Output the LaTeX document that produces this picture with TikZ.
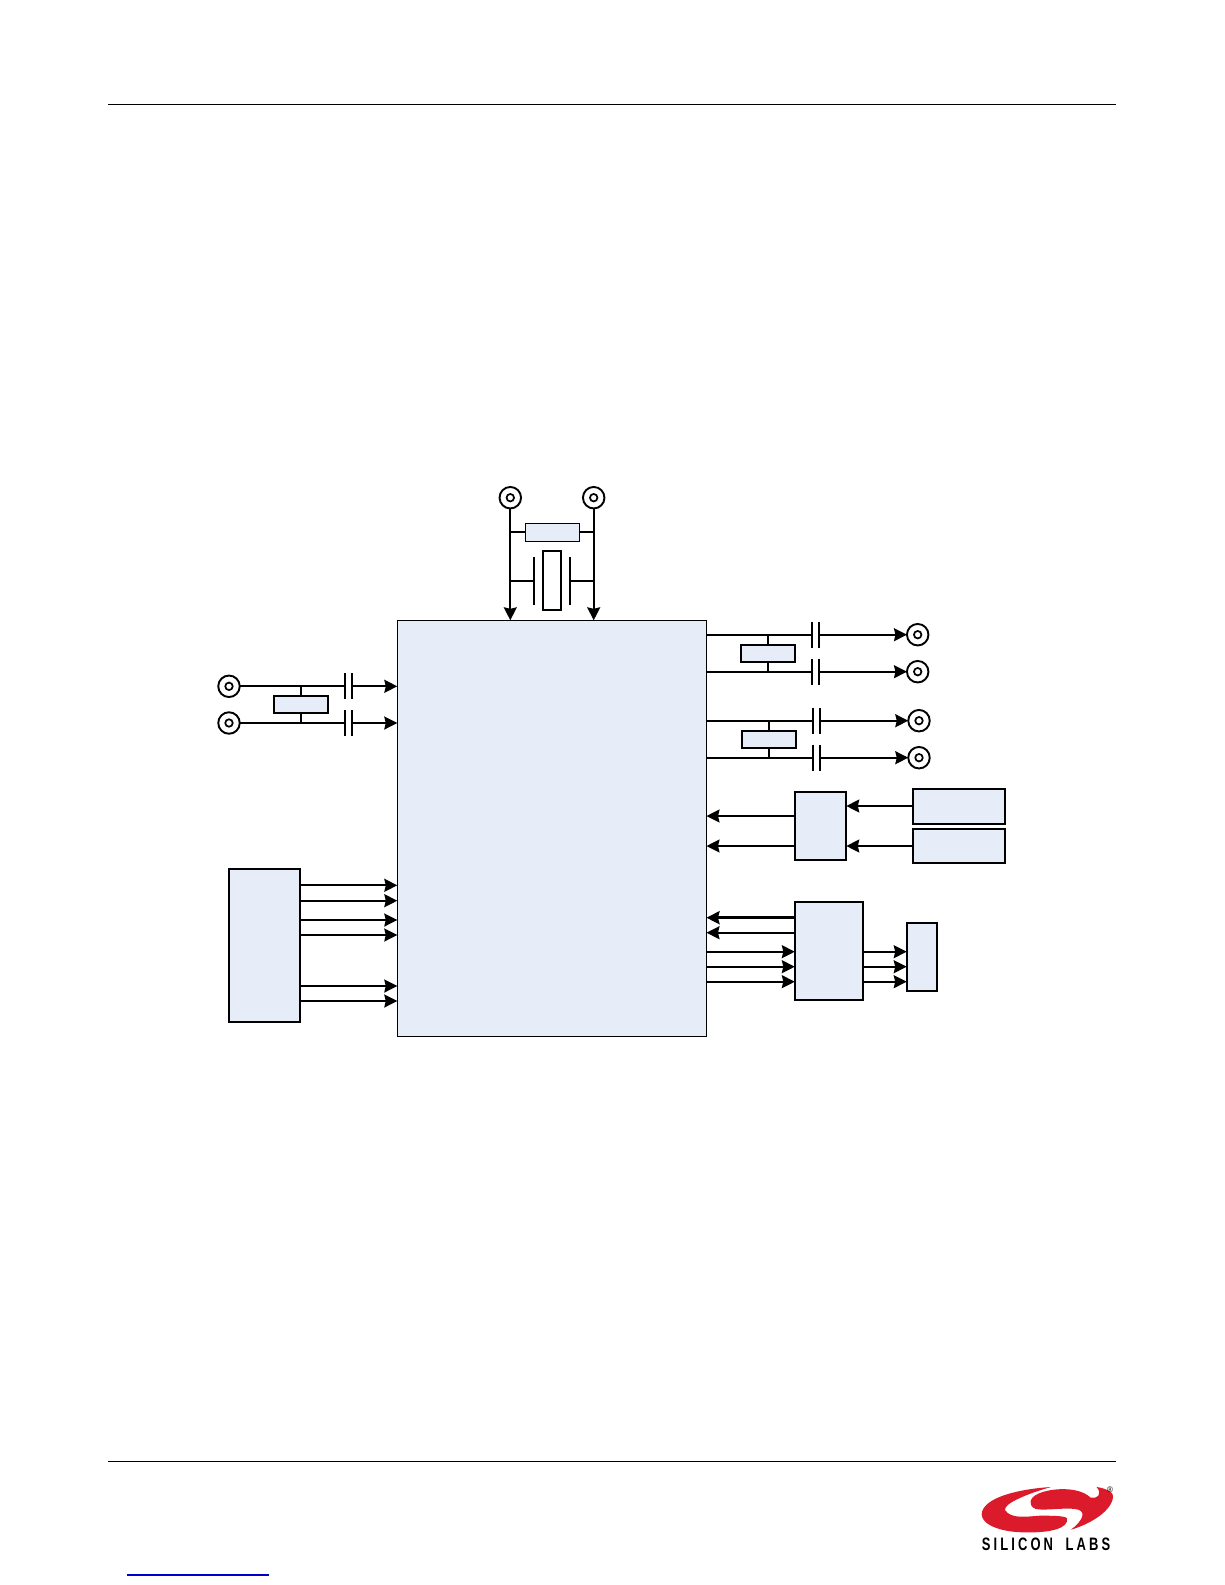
\documentclass[tikz,border=0pt]{standalone}
\usepackage{graphicx}
\usepackage{fontspec}
\setmainfont{Liberation Sans}
\newfontfamily\logofont[LetterSpace=24]{Liberation Sans}
\usetikzlibrary{arrows.meta}
\definecolor{boxfill}{HTML}{E6EDF8}
\definecolor{logored}{HTML}{DB1A2C}
\tikzset{
  blk/.style={draw=black,fill=boxfill,inner sep=0pt,outer sep=0pt,line width=1.8pt,rectangle},
  thinblk/.style={blk,line width=1.1pt},
  wire/.style={line width=1.8pt,draw=black},
  arr/.style={wire,-{Stealth[length=13pt,width=13pt,inset=1.5pt]}},
  plate/.style={line width=2.1pt,draw=black},
  termo/.style={circle,draw=black,fill=white,inner sep=0pt,outer sep=0pt,minimum size=21.5pt,line width=1.9pt},
  termi/.style={circle,draw=black,fill=white,inner sep=0pt,outer sep=0pt,minimum size=7.5pt,line width=1.7pt},
  capgap/.style={rectangle,inner sep=0pt,outer sep=0pt,fill=white,minimum width=7.4pt,minimum height=26pt}
}
% name, x1, y1, x2, y2, style
\newcommand{\bx}[6]{\node[#6,minimum width={(#4-#2)*1pt},minimum height={(#5-#3)*1pt}] (#1) at ({(#2+#4)/2},{(#3+#5)/2}) {};}
\newcommand{\term}[3]{\node[termo] (#1) at (#2,#3) {}; \node[termi] (#1i) at (#2,#3) {};}
\newcommand{\capac}[3]{\node[capgap] (#1) at (#2,#3) {};
  \draw[plate] (#1.north west) -- (#1.south west) (#1.north east) -- (#1.south east);}
\begin{document}
\begin{tikzpicture}[x=1pt,y=-1pt]
\useasboundingbox (0,0) rectangle (1225,1585);
\fill[white] (0,0) rectangle (1225,1585);
% page rules
\coordinate (rt1) at (108,104.3); \coordinate (rt2) at (1115.7,104.3);
\coordinate (rb1) at (108,1461.2); \coordinate (rb2) at (1115.7,1461.2);
\draw[line width=1.1pt] (rt1) -- (rt2);
\draw[line width=1.1pt] (rb1) -- (rb2);
\coordinate (lk1) at (127,1575); \coordinate (lk2) at (268.7,1575);
\draw[line width=1.1pt,draw={rgb,255:red,0;green,0;blue,204}] (lk1) -- (lk2);

% blocks
\bx{main}{397.3}{620.3}{706.5}{1036.3}{thinblk}
\bx{ctl}{229}{869}{300}{1022}{blk}
\bx{mux}{794.6}{791.7}{846.3}{860}{blk}
\bx{srca}{912.7}{788.7}{1005}{823.7}{blk}
\bx{srcb}{912.7}{828.7}{1005}{863.3}{blk}
\bx{clk}{794.8}{902}{863}{1000}{blk}
\bx{drv}{906.7}{922.7}{937}{991}{blk}

% crystal section
\term{xa}{510.3}{497.7}
\term{xb}{593.7}{497.7}
\bx{rx}{525.3}{523.3}{579.3}{541.3}{thinblk}
\node[rectangle,draw=black,fill=white,line width=1.7pt,inner sep=0pt,outer sep=0pt,minimum width=18.6pt,minimum height=59.6pt] (xtal) at (552,580.5) {};
\coordinate (pa1) at (534,556.7); \coordinate (pa2) at (534,604.7);
\coordinate (pb1) at (570,556.7); \coordinate (pb2) at (570,604.7);
\coordinate (pam) at (534,580.7); \coordinate (pbm) at (570,580.7);
\draw[plate] (pa1) -- (pa2);
\draw[plate] (pb1) -- (pb2);
\draw[arr] (xa) -- (xa |- main.north);
\draw[arr] (xb) -- (xb |- main.north);
\draw[wire] (rx.west) -- (xa |- rx.west);
\draw[wire] (rx.east) -- (xb |- rx.east);
\draw[wire] (pam) -- (xa |- pam);
\draw[wire] (pbm) -- (xb |- pbm);

% left input pair
\term{ia}{229}{686.3}
\term{ib}{229}{723}
\draw[arr] (ia) -- (main.west |- ia);
\draw[arr] (ib) -- (main.west |- ib);
\capac{ca}{348.7}{686.3}
\capac{cb}{348.7}{723}
\bx{ri}{273.7}{696}{328.3}{713}{blk}
\draw[wire] (ri.north) -- (ri.north |- ia);
\draw[wire] (ri.south) -- (ri.south |- ib);

% right output pairs
\term{oa}{917.7}{634.7}
\term{ob}{917.7}{671.7}
\term{oc}{919}{720.7}
\term{od}{919}{757.7}
\draw[arr] (main.east |- oa) -- (oa);
\draw[arr] (main.east |- ob) -- (ob);
\draw[arr] (main.east |- oc) -- (oc);
\draw[arr] (main.east |- od) -- (od);
\capac{cc}{815.3}{634.7}
\capac{cd}{815.3}{671.7}
\capac{ce}{816.5}{720.7}
\capac{cf}{816.5}{757.7}
\bx{ro1}{740.7}{644.7}{795.3}{662}{blk}
\bx{ro2}{741.7}{730.7}{796.3}{748}{blk}
\draw[wire] (ro1.north) -- (ro1.north |- oa);
\draw[wire] (ro1.south) -- (ro1.south |- ob);
\draw[wire] (ro2.north) -- (ro2.north |- oc);
\draw[wire] (ro2.south) -- (ro2.south |- od);

% mux
\draw[arr] (srca.west |- 0,806) -- (mux.east |- 0,806);
\draw[arr] (srcb.west |- 0,846) -- (mux.east |- 0,846);
\draw[arr] (mux.west |- 0,816) -- (main.east |- 0,816);
\draw[arr] (mux.west |- 0,846) -- (main.east |- 0,846);

% clock block
\draw[arr,line width=2.6pt] (clk.west |- 0,917.7) -- (main.east |- 0,917.7);
\draw[arr] (clk.west |- 0,932.7) -- (main.east |- 0,932.7);
\foreach \y in {951.7,966.7,981.7}{
  \draw[arr] (main.east |- 0,\y) -- (clk.west |- 0,\y);
  \draw[arr] (clk.east |- 0,\y) -- (drv.west |- 0,\y);
}

% control inputs
\foreach \y in {885.3,900.7,920,935,986,1001}{
  \draw[arr] (ctl.east |- 0,\y) -- (main.west |- 0,\y);
}

% logo
\begin{scope}[shift={(975,1475)},x=0.3333pt,y=-0.3333pt]
  \fill[logored] (228,36) .. controls (130,42) and (22,68) .. (20,118)
     .. controls (20,150) and (80,172) .. (150,172)
     .. controls (225,174) and (282,160) .. (276,130)
     .. controls (272,122) and (225,122) .. (195,122)
     .. controls (160,124) and (108,134) .. (90,105)
     .. controls (86,85) and (160,55) .. (228,36) -- cycle;
  \fill[logored] (365,36) .. controls (400,41) and (418,55) .. (414,68)
     .. controls (407,112) and (340,149) .. (288,164)
     .. controls (320,140) and (335,112) .. (310,104)
     .. controls (280,95) and (215,108) .. (182,102)
     .. controls (158,92) and (162,68) .. (190,56)
     .. controls (230,38) and (312,34) .. (347,68)
     .. controls (365,72) and (384,60) .. (365,36) -- cycle;
  \node[inner sep=0pt,font=\fontsize{8}{8}\selectfont] (reg) at (405,43) {®};
  \node[inner sep=0pt,anchor=base west] (brand) at (20,225) {\scalebox{0.72}[1]{\logofont\bfseries\fontsize{18}{18}\selectfont SILICON\hspace{8pt} LABS}};
\end{scope}
\end{tikzpicture}
\end{document}
